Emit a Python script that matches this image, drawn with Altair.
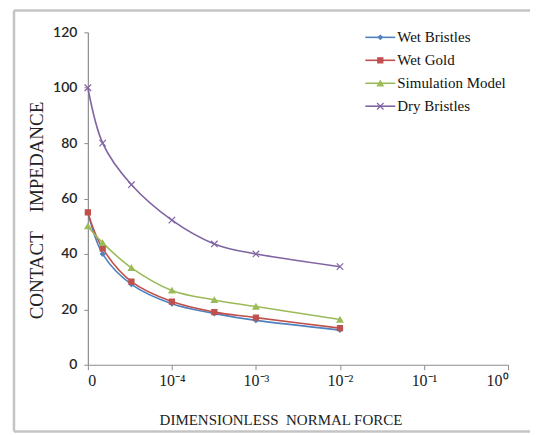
import altair as alt
import pandas as pd

SERIES = ["Wet Bristles", "Wet Gold", "Simulation Model", "Dry Bristles"]
COLORS = ["#4F81BD", "#C0504D", "#9BBB59", "#8064A2"]
SHAPES = ["diamond", "square", "triangle-up", "M-1,-1L1,1M-1,1L1,-1"]
SIZES = [18, 42, 32, 40]

FORCE = [0, 1.5e-5, 3.3e-5, 1e-4, 3.2e-4, 1e-3, 1e-2]
WET_BRISTLES = [55, 40, 29, 22, 18.5, 16, 12.5]
WET_GOLD = [55, 42, 30, 22.8, 19, 17, 13.2]
SIMULATION = [50, 44, 35, 26.8, 23.4, 21, 16.3]
DRY_BRISTLES = [100, 80, 65, 52.2, 43.6, 40, 35.4]

X_TICKS = [-5, -4, -3, -2, -1, 0]
X_TICK_LABELS = ["0", "10⁻⁴", "10⁻³", "10⁻²", "10⁻¹", "10⁰"]
Y_TICKS = [0, 20, 40, 60, 80, 100, 120]

W, H = 421, 333

rows = []
for name, vals in zip(SERIES, [WET_BRISTLES, WET_GOLD, SIMULATION, DRY_BRISTLES]):
    for f, v in zip(FORCE, vals):
        rows.append({"series": name, "force": f, "impedance": v})
df = pd.DataFrame(rows)
legend_df = pd.DataFrame({"series": SERIES})

label_expr = "".join(
    f"abs(datum.value - ({t})) < 0.01 ? '{l}' : " for t, l in zip(X_TICKS, X_TICK_LABELS)
) + "''"

color_scale = alt.Scale(domain=SERIES, range=COLORS)
shape_scale = alt.Scale(domain=SERIES, range=SHAPES)
size_scale = alt.Scale(domain=SERIES, range=SIZES)

x_enc = alt.X(
    "logx:Q",
    scale=alt.Scale(domain=[-5, 0], nice=False, zero=False),
    axis=alt.Axis(
        values=X_TICKS, labelExpr=label_expr, grid=False, tickSize=5, labelPadding=3,
        labelFont="Liberation Serif", labelFontSize=16, labelColor="#222222",
        domainColor="#8c8c8c", tickColor="#8c8c8c", domainWidth=1.2,
        title="DIMENSIONLESS\u00a0\u00a0NORMAL FORCE", titleFont="Liberation Serif",
        titleFontSize=15, titleFontWeight="normal", titleColor="#222222",
        titleX=193, titleY=55, titleBaseline="middle", titleAlign="center",
    ),
)
y_enc = alt.Y(
    "impedance:Q",
    scale=alt.Scale(domain=[0, 120], nice=False),
    axis=alt.Axis(
        values=Y_TICKS, grid=False, tickSize=4, labelPadding=7,
        labelFont="Lato", labelFontSize=14, labelFontWeight=600, labelColor="#262626",
        domainColor="#8c8c8c", tickColor="#8c8c8c", domainWidth=1.2,
        title="CONTACT\u00a0\u00a0\u00a0\u00a0IMPEDANCE", titleFont="Liberation Serif",
        titleFontSize=19, titleFontWeight="normal", titleColor="#222222",
        titleX=-51, titleY=178, titleBaseline="middle", titleAlign="center", titleAngle=270,
    ),
)

base = alt.Chart(df).transform_calculate(
    logx="datum.force > 0 ? log(datum.force) / LN10 : -5"
)

lines = base.mark_line(interpolate="cardinal", strokeWidth=1.6).encode(
    x=x_enc, y=y_enc,
    color=alt.Color("series:N", scale=color_scale, legend=None),
    detail="series:N",
)
points = base.mark_point(filled=True, strokeWidth=1.2, opacity=1).encode(
    x=x_enc, y=y_enc,
    color=alt.Color("series:N", scale=color_scale, legend=None),
    stroke=alt.Stroke("series:N", scale=color_scale, legend=None),
    shape=alt.Shape("series:N", scale=shape_scale, legend=None),
    size=alt.Size("series:N", scale=size_scale, legend=None),
)

frame_data = alt.Data(values=[{"a": 1}])
frame_style = dict(stroke="#c4c4c4", strokeWidth=2.5)
frame_left = alt.Chart(frame_data).mark_rule(**frame_style).encode(
    x=alt.value(-74), y=alt.value(-22), y2=alt.value(H + 67)
)
frame_top = alt.Chart(frame_data).mark_rule(**frame_style).encode(
    x=alt.value(-74), x2=alt.value(W + 22), y=alt.value(-22)
)
frame_bottom = alt.Chart(frame_data).mark_rule(**frame_style).encode(
    x=alt.value(-74), x2=alt.value(W + 22), y=alt.value(H + 67)
)

ly = alt.Y("series:N", scale=alt.Scale(type="point", domain=SERIES, range=[5, 74], padding=0), axis=None)
leg_base = alt.Chart(legend_df)
leg_rule = leg_base.mark_rule(strokeWidth=1.6).encode(
    y=ly, x=alt.value(278), x2=alt.value(308),
    color=alt.Color("series:N", scale=color_scale, legend=None),
)
leg_pts = leg_base.mark_point(filled=True, strokeWidth=1.2, opacity=1).encode(
    y=ly, x=alt.value(293),
    color=alt.Color("series:N", scale=color_scale, legend=None),
    stroke=alt.Stroke("series:N", scale=color_scale, legend=None),
    shape=alt.Shape("series:N", scale=shape_scale, legend=None),
    size=alt.Size("series:N", scale=size_scale, legend=None),
)
leg_text = leg_base.mark_text(
    align="left", baseline="middle", font="Liberation Serif", fontSize=15, color="#111111"
).encode(y=ly, x=alt.value(310), text="series:N")

main = alt.layer(frame_left, frame_top, frame_bottom, lines, points)
legend = alt.layer(leg_rule, leg_pts, leg_text)

chart = alt.layer(main, legend).resolve_scale(y="independent").properties(
    width=W, height=H,
    padding={"left": 4, "top": 0, "right": 0, "bottom": 0},
    background="white",
).configure_view(stroke=None)

chart.save("out.html", embed_options={"renderer": "svg", "actions": False})
